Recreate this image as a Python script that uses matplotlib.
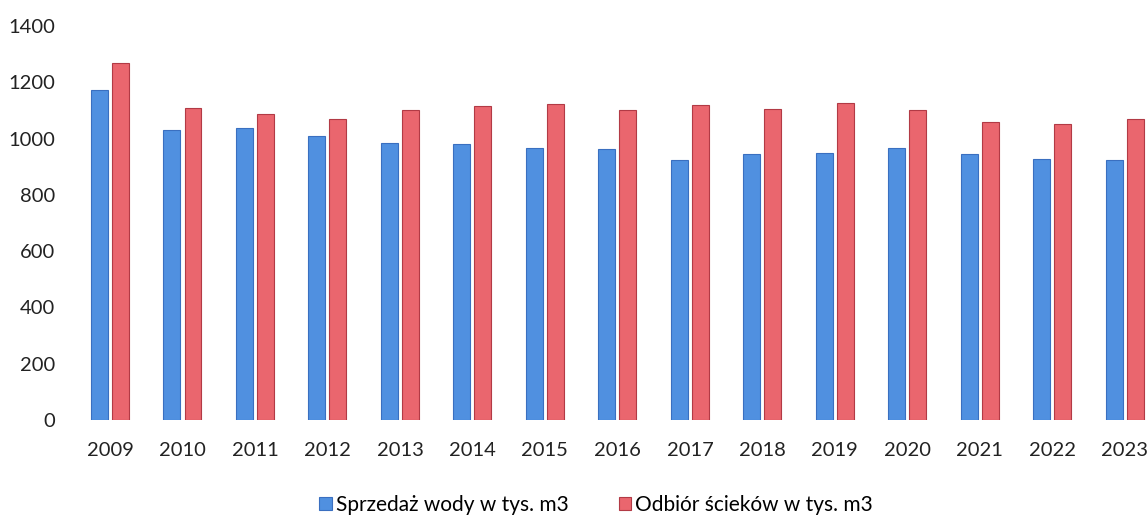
import numpy as np
import matplotlib
matplotlib.use('Agg')
import matplotlib.pyplot as plt

years = ['2009', '2010', '2011', '2012', '2013', '2014', '2015', '2016',
         '2017', '2018', '2019', '2020', '2021', '2022', '2023']
sprzedaz = [1171, 1032, 1039, 1009, 986, 982, 966, 964, 925, 945, 950, 968, 945, 929, 925]
odbior = [1270, 1110, 1089, 1069, 1103, 1117, 1123, 1103, 1121, 1105, 1125, 1100, 1059, 1053, 1071]
yticks = [0, 200, 400, 600, 800, 1000, 1200, 1400]

plt.rcParams['font.family'] = ['Lato', 'DejaVu Sans']

fig = plt.figure(figsize=(11.48, 5.17), dpi=100)
ax = fig.add_axes([66.5 / 1148, 1 - 420 / 517, (1148 - 66.5) / 1148, (420 - 26) / 517])

x = np.arange(len(years))
w = 0.234
ax.bar(x - 0.145, sprzedaz, w, color='#5090e0', edgecolor='#3a6fc0', linewidth=0.8,
       label='Sprzedaż wody w tys. m3')
ax.bar(x + 0.145, odbior, w, color='#ea666e', edgecolor='#b23a45', linewidth=0.8,
       label='Odbiór ścieków w tys. m3')

ax.set_xlim(-0.6, 14.32)
ax.set_ylim(0, 1400)
ax.set_xticks(x)
ax.set_xticklabels(years)
ax.set_yticks(yticks)
ax.tick_params(axis='both', length=0, labelsize=14.5, colors='#222222')
ax.tick_params(axis='x', pad=16)
ax.tick_params(axis='y', pad=8)
for s in ax.spines.values():
    s.set_visible(False)

fig.legend(loc='center', bbox_to_anchor=(596 / 1148, 1 - 505 / 517), ncol=2, frameon=False,
           fontsize=15, handlelength=0.6, handleheight=0.6, handletextpad=0.2,
           columnspacing=2.4, borderpad=0)

fig.savefig('out.png', dpi=100)
